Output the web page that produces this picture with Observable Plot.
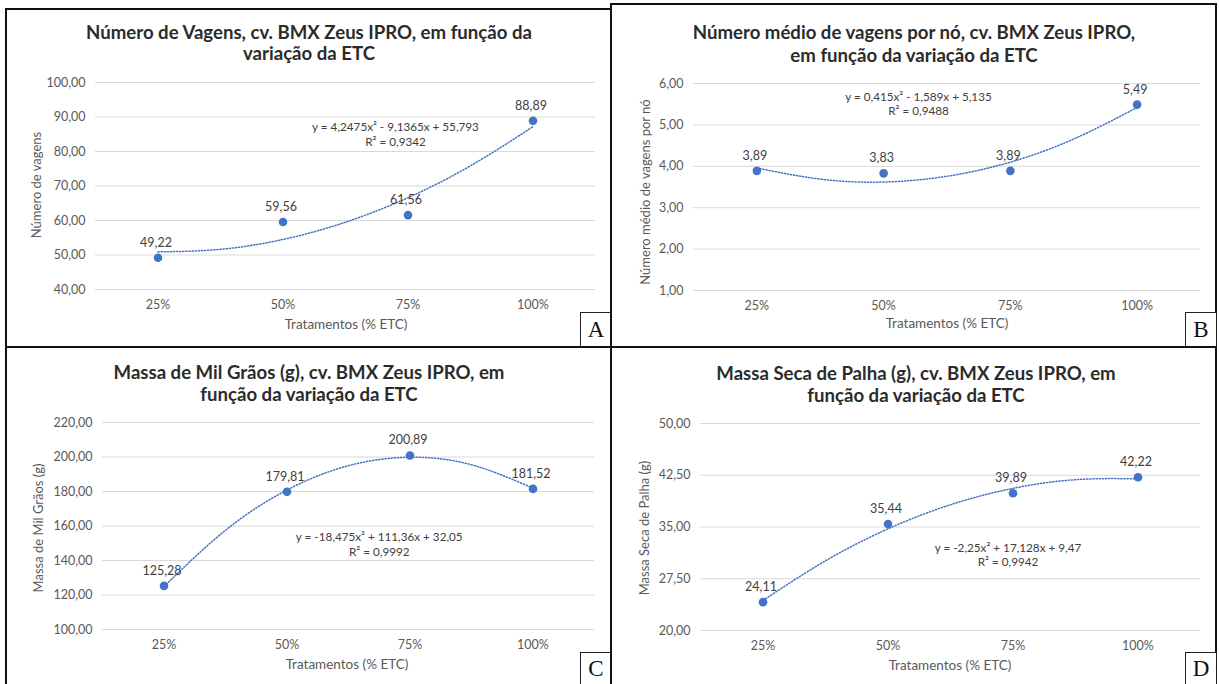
<!DOCTYPE html>
<html>
<head>
<meta charset="utf-8">
<script src="https://cdn.jsdelivr.net/npm/d3@7"></script>
<script src="https://cdn.jsdelivr.net/npm/@observablehq/plot@0.6"></script>
<style>
  body { margin: 0; background: #fff; }
  #root { position: relative; width: 1219px; height: 684px; overflow: hidden; font-family: Lato, "Noto Sans", sans-serif; background: #fff; }
  .title { position: absolute; font-weight: bold; font-size: 18.6px; color: #2b2b2b; text-align: center; white-space: nowrap; transform: translate(-50%, -50%); line-height: 22px; }
  .axt { position: absolute; font-size: 13.5px; color: #595959; white-space: nowrap; transform: translate(-50%, -50%); }
  .axty { position: absolute; font-size: 13px; color: #595959; white-space: nowrap; transform: translate(-50%, -50%) rotate(-90deg); }
  .frame { position: absolute; border: 2px solid #111; box-sizing: border-box; }
  .letter { position: absolute; border: 1px solid #222; background: #fff; box-sizing: border-box; font-family: "Liberation Serif", "DejaVu Serif", serif; font-size: 23px; color: #111; display: flex; align-items: center; justify-content: center; }
</style>
</head>
<body>
<div id="root"></div>
<script>
// ---- data ----
const categories = ["25%", "50%", "75%", "100%"];
const xIndex = [1, 2, 3, 4];

const valuesA = [49.22, 59.56, 61.56, 88.89];
const valuesB = [3.89, 3.83, 3.89, 5.49];
const valuesC = [125.28, 179.81, 200.89, 181.52];
const valuesD = [24.11, 35.44, 39.89, 42.22];

// dotted trendline at these x positions
const trendX = [1, 1.5, 2, 2.5, 3, 3.5, 4];
const trendA = [50.90, 51.65, 54.51, 59.50, 66.61, 75.85, 87.21];
const trendB = [3.96, 3.69, 3.62, 3.76, 4.10, 4.66, 5.42];
const trendC = [124.94, 157.52, 180.87, 194.98, 199.86, 195.49, 181.89];
const trendD = [24.35, 30.10, 34.73, 38.23, 40.60, 41.86, 41.98];

const ticksA = [40, 50, 60, 70, 80, 90, 100];
const ticksB = [1, 2, 3, 4, 5, 6];
const ticksC = [100, 120, 140, 160, 180, 200, 220];
const ticksD = [20, 27.5, 35, 42.5, 50];

const titlesA = ["Número de Vagens, cv. BMX Zeus IPRO, em função da", "variação da ETC"];
const titlesB = ["Número médio de vagens por nó, cv. BMX Zeus IPRO,", "em função da variação da ETC"];
const titlesC = ["Massa de Mil Grãos (g), cv. BMX Zeus IPRO, em", "função da variação da ETC"];
const titlesD = ["Massa Seca de Palha (g), cv. BMX Zeus IPRO, em", "função da variação da ETC"];

const yLabels = ["Número de vagens", "Número médio de vagens por nó", "Massa de Mil Grãos (g)", "Massa Seca de Palha (g)"];
const xLabel = "Tratamentos (% ETC)";
const equations = [
  ["y = 4,2475x² - 9,1365x + 55,793", "R² = 0,9342"],
  ["y = 0,415x² - 1,589x + 5,135", "R² = 0,9488"],
  ["y = -18,475x² + 111,36x + 32,05", "R² = 0,9992"],
  ["y = -2,25x² + 17,128x + 9,47", "R² = 0,9942"]
];
const letters = ["A", "B", "C", "D"];

// ---- layout ----
const fmt = v => v.toFixed(2).replace(".", ",");
const blue = "#4472C4";
const root = document.getElementById("root");

const panels = [
  { values: valuesA, trend: trendA, ticks: ticksA, titles: titlesA,
    left: 0, top: 0, width: 612, height: 348, mL: 95, mR: 17, mT: 82, mB: 59,
    eq: [2.9, 87.0, 82.8], titleX: 309, titleY: [32, 53], yl: [36, 185], xl: [346, 324],
    frame: [5, 8, 612, 348], box: [580, 312, 32, 36] },
  { values: valuesB, trend: trendB, ticks: ticksB, titles: titlesB,
    left: 612, top: 0, width: 604, height: 348, mL: 81, mR: 16, mT: 83, mB: 58,
    eq: [2.275, 5.66, 5.32], titleX: 914, titleY: [32, 55], yl: [645, 192], xl: [947, 323],
    frame: [610, 3, 1217, 348], box: [1185, 312, 32, 36] },
  { values: valuesC, trend: trendC, ticks: ticksC, titles: titlesC,
    left: 0, top: 348, width: 612, height: 336, mL: 102, mR: 18, mT: 74, mB: 55,
    eq: [2.75, 153.3, 144.6], titleX: 309, titleY: [372, 394], yl: [38, 528], xl: [347, 664],
    frame: [5, 346, 612, 686], box: [580, 652, 32, 34] },
  { values: valuesD, trend: trendD, ticks: ticksD, titles: titlesD,
    left: 612, top: 348, width: 604, height: 336, mL: 88, mR: 16, mT: 75, mB: 54,
    eq: [2.96, 31.9, 29.85], titleX: 916, titleY: [373, 395], yl: [644, 528], xl: [950, 665],
    frame: [610, 346, 1217, 686], box: [1185, 652, 32, 34] }
];

panels.forEach((p, k) => {
  const pts = xIndex.map((x, i) => ({ x, y: p.values[i] }));
  const tr = trendX.map((x, i) => ({ x, y: p.trend[i] }));
  const yDom = [p.ticks[0], p.ticks[p.ticks.length - 1]];
  const chart = Plot.plot({
    width: p.width, height: p.height,
    marginLeft: p.mL, marginRight: p.mR, marginTop: p.mT, marginBottom: p.mB,
    style: { fontFamily: 'Lato, "Noto Sans", sans-serif', color: "#595959", background: "transparent", overflow: "visible" },
    x: { type: "linear", domain: [0.5, 4.5], axis: null },
    y: { domain: yDom, axis: null },
    marks: [
      Plot.gridY(p.ticks, { stroke: "#d9d9d9", strokeOpacity: 1, strokeWidth: 1 }),
      Plot.axisY(p.ticks, { tickSize: 0, tickPadding: 10, tickFormat: fmt, fontSize: 12.5, label: null }),
      Plot.axisX(xIndex, { tickSize: 0, tickPadding: 11, tickFormat: i => categories[i - 1], fontSize: 12.5, label: null }),
      Plot.line(tr, { x: "x", y: "y", curve: "natural", stroke: blue, strokeWidth: 1.5, strokeDasharray: "1.2,1.9" }),
      Plot.dot(pts, { x: "x", y: "y", r: 4.3, fill: blue, stroke: null }),
      Plot.text(pts, { x: "x", y: "y", text: d => fmt(d.y), dy: -15, dx: -2, fontSize: 12.5, fill: "#404040" }),
      Plot.text([equations[k][0]], { x: () => p.eq[0], y: () => p.eq[1], text: d => d, fontSize: 11.7, fill: "#404040" }),
      Plot.text([equations[k][1]], { x: () => p.eq[0], y: () => p.eq[2], text: d => d, fontSize: 11.7, fill: "#404040" })
    ]
  });
  chart.style.position = "absolute";
  chart.style.left = p.left + "px";
  chart.style.top = p.top + "px";
  root.appendChild(chart);

  // frame
  const f = document.createElement("div");
  f.className = "frame";
  f.style.left = p.frame[0] + "px"; f.style.top = p.frame[1] + "px";
  f.style.width = (p.frame[2] - p.frame[0]) + "px"; f.style.height = (p.frame[3] - p.frame[1]) + "px";
  root.appendChild(f);

  // titles
  p.titles.forEach((t, j) => {
    const d = document.createElement("div");
    d.className = "title"; d.textContent = t;
    d.style.left = p.titleX + "px"; d.style.top = p.titleY[j] + "px";
    root.appendChild(d);
  });
  // axis titles
  const yl = document.createElement("div");
  yl.className = "axty"; yl.textContent = yLabels[k];
  yl.style.left = p.yl[0] + "px"; yl.style.top = p.yl[1] + "px";
  root.appendChild(yl);
  const xl = document.createElement("div");
  xl.className = "axt"; xl.textContent = xLabel;
  xl.style.left = p.xl[0] + "px"; xl.style.top = p.xl[1] + "px";
  root.appendChild(xl);
  // letter box
  const b = document.createElement("div");
  b.className = "letter"; b.textContent = letters[k];
  b.style.left = p.box[0] + "px"; b.style.top = p.box[1] + "px";
  b.style.width = p.box[2] + "px"; b.style.height = p.box[3] + "px";
  root.appendChild(b);
});
</script>
</body>
</html>
